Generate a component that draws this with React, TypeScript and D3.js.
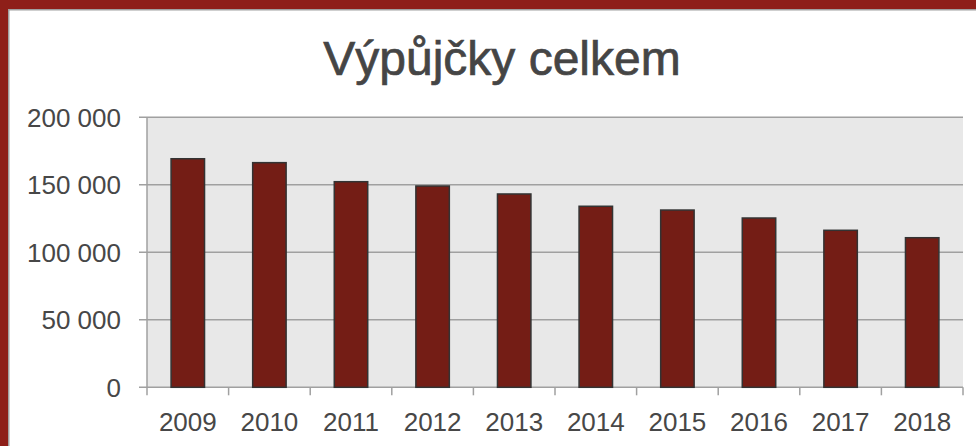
import React from "react";
import * as d3 from "d3";

const years = ["2009", "2010", "2011", "2012", "2013", "2014", "2015", "2016", "2017", "2018"];
const loans = [169300, 166400, 152300, 149100, 143200, 134100, 131300, 125400, 116300, 110800];
const yTicks = [0, 50000, 100000, 150000, 200000];
const title = "Výpůjčky celkem";

const W = 976;
const H = 446;
const plot = { left: 147, right: 963, top: 117.3, bottom: 387.3 };
const font = "'Liberation Sans', Arial, Helvetica, sans-serif";

const fmt = (v: number) => d3.format(",")(v).replace(/,/g, " ");

export default function App() {
  const x = d3.scaleBand<string>().domain(years).range([plot.left, plot.right]).paddingInner(0.59).paddingOuter(0.295);
  const band = d3.scaleBand<string>().domain(years).range([plot.left, plot.right]);
  const y = d3.scaleLinear().domain([0, 200000]).range([plot.bottom, plot.top]);

  return (
    <svg width={W} height={H} style={{ position: "absolute", left: 0, top: 0, display: "block" }}>
      <rect x={0} y={0} width={W} height={H} fill="#ffffff" />
      {/* frame */}
      <rect x={0} y={0} width={W} height={9} fill="#8E1F19" />
      <rect x={0} y={0} width={8} height={H} fill="#8E1F19" />
      <rect x={8} y={9} width={W - 8} height={1.5} fill="#a0a0a0" />
      <rect x={8} y={9} width={1.5} height={H - 9} fill="#a0a0a0" />

      <text x={502} y={75} textAnchor="middle" fontFamily={font} fontSize={48} fill="#454545" stroke="#454545" strokeWidth={0.7}>
        {title}
      </text>

      <rect x={plot.left} y={plot.top} width={plot.right - plot.left} height={plot.bottom - plot.top} fill="#E8E8E8" />

      {yTicks.map((t) => (
        <g key={t}>
          <line x1={plot.left - 8} x2={plot.right} y1={y(t)} y2={y(t)} stroke="#a0a0a0" strokeWidth={1.5} />
          <text x={121} y={y(t)} dy="0.36em" textAnchor="end" fontFamily={font} fontSize={26} fill="#474747">
            {fmt(t)}
          </text>
        </g>
      ))}

      <line x1={plot.left} x2={plot.left} y1={plot.top} y2={plot.bottom + 8} stroke="#a0a0a0" strokeWidth={1.5} />
      {years.map((yr) => (
        <line key={"t" + yr} x1={(band(yr) as number) + band.bandwidth()} x2={(band(yr) as number) + band.bandwidth()} y1={plot.bottom} y2={plot.bottom + 8} stroke="#a0a0a0" strokeWidth={1.5} />
      ))}

      {years.map((yr, i) => (
        <rect
          key={yr}
          x={x(yr)}
          y={y(loans[i])}
          width={x.bandwidth()}
          height={plot.bottom - y(loans[i])}
          fill="#741D15"
          stroke="#333333"
          strokeWidth={1.5}
        />
      ))}

      {years.map((yr) => (
        <text key={"l" + yr} x={(band(yr) as number) + band.bandwidth() / 2} y={431} textAnchor="middle" fontFamily={font} fontSize={26} fill="#474747">
          {yr}
        </text>
      ))}
    </svg>
  );
}
